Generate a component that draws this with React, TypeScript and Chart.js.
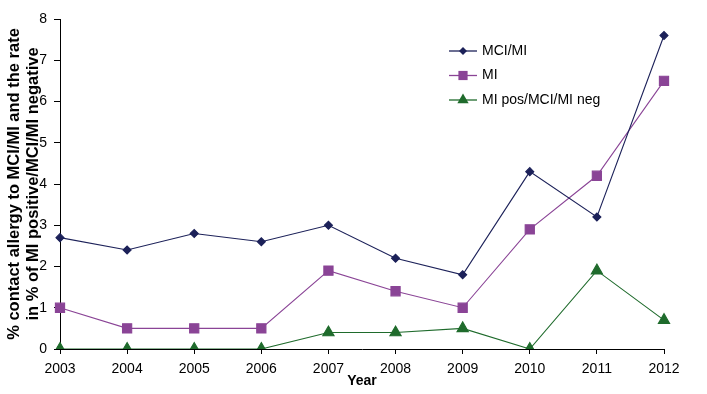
import React, { useEffect, useRef } from "react";
import { Chart, registerables } from "chart.js";

Chart.register(...registerables);

const years = ["2003", "2004", "2005", "2006", "2007", "2008", "2009", "2010", "2011", "2012"];
const mciMi = [2.7, 2.4, 2.8, 2.6, 3.0, 2.2, 1.8, 4.3, 3.2, 7.6];
const mi = [1.0, 0.5, 0.5, 0.5, 1.9, 1.4, 1.0, 2.9, 4.2, 6.5];
const miPosNeg = [0, 0, 0, 0, 0.4, 0.4, 0.5, 0, 1.9, 0.7];
const seriesNames = ["MCI/MI", "MI", "MI pos/MCI/MI neg"];
const yTitleLines = ["% contact allergy to MCI/MI and the rate", "in % of MI positive/MCI/MI negative"];
const xTitle = "Year";

const NAVY = "#1c2159";
const PURPLE = "#8a4496";
const GREEN = "#1f6b2c";

function drawMarker(ctx: CanvasRenderingContext2D, style: string, x: number, y: number, r: number) {
  ctx.beginPath();
  if (style === "rectRot") {
    ctx.moveTo(x, y - r);
    ctx.lineTo(x + r, y);
    ctx.lineTo(x, y + r);
    ctx.lineTo(x - r, y);
    ctx.closePath();
  } else if (style === "rect") {
    const s = Math.SQRT1_2 * r;
    ctx.rect(x - s, y - s, 2 * s, 2 * s);
  } else {
    const a = (Math.PI * 2) / 3;
    ctx.moveTo(x, y - r);
    ctx.lineTo(x + Math.sin(a) * r, y - Math.cos(a) * r);
    ctx.lineTo(x - Math.sin(a) * r, y - Math.cos(a) * r);
    ctx.closePath();
  }
  ctx.fill();
}

const legendPlugin = {
  id: "customLegend",
  afterDraw(chart: any) {
    const ctx = chart.ctx;
    const items = chart.data.datasets;
    const x0 = 449;
    const y0 = 51;
    const step = 24.5;
    ctx.save();
    items.forEach((ds: any, i: number) => {
      const y = y0 + i * step;
      ctx.strokeStyle = ds.borderColor;
      ctx.lineWidth = 1.3;
      ctx.beginPath();
      ctx.moveTo(x0, y);
      ctx.lineTo(x0 + 28, y);
      ctx.stroke();
      ctx.fillStyle = ds.pointBackgroundColor;
      drawMarker(ctx, ds.pointStyle, x0 + 14, y, ds.pointRadius);
      ctx.fillStyle = "#000";
      ctx.font = "14px 'Liberation Sans', Arial, sans-serif";
      ctx.textBaseline = "middle";
      ctx.textAlign = "left";
      ctx.fillText(ds.label, x0 + 33, y);
    });
    ctx.restore();
  },
};

export default function App() {
  const ref = useRef<HTMLCanvasElement | null>(null);
  useEffect(() => {
    if (!ref.current) return;
    const chart = new Chart(ref.current, {
      type: "line",
      data: {
        labels: years,
        datasets: [
          {
            label: seriesNames[0],
            data: mciMi,
            borderColor: NAVY,
            backgroundColor: NAVY,
            pointBackgroundColor: NAVY,
            pointBorderColor: NAVY,
            pointStyle: "rectRot",
            pointRadius: 4,
            borderWidth: 1.1,
          },
          {
            label: seriesNames[1],
            data: mi,
            borderColor: PURPLE,
            backgroundColor: PURPLE,
            pointBackgroundColor: PURPLE,
            pointBorderColor: PURPLE,
            pointStyle: "rect",
            pointRadius: 6.5,
            borderWidth: 1.1,
          },
          {
            label: seriesNames[2],
            data: miPosNeg,
            borderColor: GREEN,
            backgroundColor: GREEN,
            pointBackgroundColor: GREEN,
            pointBorderColor: GREEN,
            pointStyle: "triangle",
            pointRadius: 6.5,
            borderWidth: 1.1,
          },
        ] as any,
      },
      options: {
        animation: false,
        responsive: false,
        maintainAspectRatio: false,
        layout: { padding: { top: 19, right: 43, left: 0, bottom: 0 } },
        plugins: { legend: { display: false }, tooltip: { enabled: false } },
        elements: { line: { tension: 0 } },
        scales: {
          x: {
            type: "category",
            offset: false,
            grid: { display: true, drawOnChartArea: false, drawTicks: true, tickLength: 5, color: "#000" },
            border: { display: true, color: "#000", width: 1 },
            ticks: {
              color: "#000",
              padding: 7,
              maxRotation: 0,
              autoSkip: false,
              font: { family: "'Liberation Sans', Arial", size: 14 },
            },
            title: {
              display: true,
              text: xTitle,
              color: "#000",
              padding: { top: 0, bottom: 4 },
              font: { family: "'Liberation Sans', Arial", size: 14, weight: "bold" },
            },
            afterFit(scale: any) {
              scale.height = 45;
            },
          },
          y: {
            min: 0,
            max: 8,
            grid: { display: true, drawOnChartArea: false, drawTicks: true, tickLength: 6, color: "#000" },
            border: { display: true, color: "#000", width: 1 },
            ticks: {
              stepSize: 1,
              color: "#000",
              padding: 7,
              font: { family: "'Liberation Sans', Arial", size: 14 },
            },
            title: {
              display: true,
              text: yTitleLines,
              color: "#000",
              padding: { top: 5, bottom: 0 },
              font: { family: "'Liberation Sans', Arial", size: 16.5, weight: "bold", lineHeight: 1.15 },
            },
            afterFit(scale: any) {
              scale.width = 60;
            },
          },
        },
      } as any,
      plugins: [legendPlugin],
    });
    return () => chart.destroy();
  }, []);
  return (
    <div style={{ position: "fixed", left: 0, top: 0, width: 707, height: 394, background: "#fff" }}>
      <canvas ref={ref} width={707} height={394} style={{ width: 707, height: 394 }} />
    </div>
  );
}
